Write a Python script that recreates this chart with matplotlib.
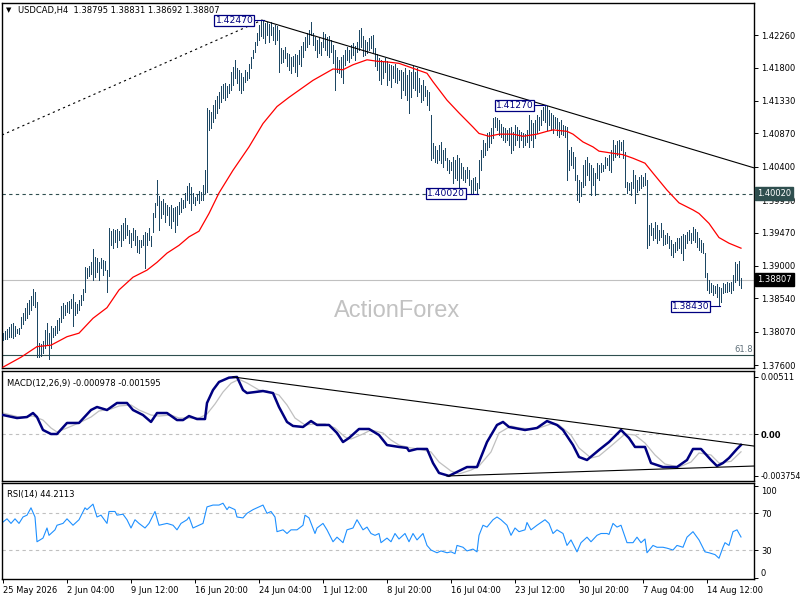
import matplotlib
matplotlib.use("Agg")
import matplotlib.pyplot as plt
import matplotlib.transforms as mtransforms
import numpy as np

# ---------------- data (USDCAD H4) ----------------
highs = [
 1.3805,1.3808,1.3811,1.3814,1.3818,1.3819,1.3815,1.3811,1.3812,1.3828,
 1.3833,1.3841,1.3848,1.3852,1.3857,1.3867,1.3863,1.3849,1.3791,1.3790,
 1.3794,1.3809,1.3819,1.3805,1.3815,1.3812,1.3815,1.3824,1.3826,1.3843,
 1.3848,1.3845,1.3849,1.3850,1.3853,1.3860,1.3849,1.3846,1.3852,1.3859,
 1.3867,1.3898,1.3897,1.3900,1.3905,1.3924,1.3913,1.3911,1.3905,1.3911,
 1.3908,1.3907,1.3894,1.3953,1.3949,1.3952,1.3951,1.3952,1.3949,1.3958,
 1.3961,1.3968,1.3958,1.3951,1.3946,1.3954,1.3951,1.3942,1.3937,1.3937,
 1.3944,1.3948,1.3946,1.3954,1.3942,1.3975,1.3989,1.4021,1.3999,1.3992,
 1.3994,1.3989,1.3986,1.3983,1.3986,1.3982,1.3983,1.3985,1.3990,1.3996,
 1.3993,1.4003,1.4013,1.4017,1.4011,1.4003,1.3997,1.4001,1.4006,1.4004,
 1.4014,1.4035,1.4123,1.4120,1.4117,1.4127,1.4134,1.4140,1.4146,1.4154,
 1.4157,1.4158,1.4154,1.4157,1.4174,1.4181,1.4191,1.4179,1.4177,1.4172,
 1.4167,1.4177,1.4174,1.4185,1.4195,1.4205,1.4216,1.4229,1.4240,1.4246,
 1.4247,1.4243,1.4244,1.4241,1.4244,1.4237,1.4240,1.4239,1.4233,1.4208,
 1.4205,1.4209,1.4201,1.4199,1.4195,1.4196,1.4199,1.4198,1.4205,1.4210,
 1.4216,1.4223,1.4229,1.4233,1.4244,1.4229,1.4223,1.4219,1.4222,1.4216,
 1.4230,1.4227,1.4223,1.4225,1.4219,1.4212,1.4205,1.4195,1.4191,1.4195,
 1.4198,1.4205,1.4209,1.4205,1.4212,1.4215,1.4210,1.4216,1.4233,1.4236,
 1.4225,1.4219,1.4216,1.4222,1.4225,1.4226,1.4208,1.4199,1.4194,1.4191,
 1.4188,1.4194,1.4189,1.4185,1.4184,1.4182,1.4185,1.4179,1.4177,1.4177,
 1.4174,1.4179,1.4170,1.4177,1.4174,1.4182,1.4174,1.4179,1.4165,1.4155,
 1.4162,1.4154,1.4148,1.4146,1.4113,1.4073,1.4069,1.4064,1.4071,1.4075,
 1.4064,1.4066,1.4052,1.4050,1.4047,1.4054,1.4050,1.4057,1.4052,1.4045,
 1.4040,1.4035,1.4040,1.4035,1.4021,1.4024,1.4026,1.4017,1.4050,1.4064,
 1.4078,1.4073,1.4088,1.4089,1.4095,1.4109,1.4110,1.4109,1.4106,1.4100,
 1.4096,1.4095,1.4092,1.4095,1.4096,1.4089,1.4099,1.4096,1.4092,1.4089,
 1.4088,1.4086,1.4092,1.4113,1.4106,1.4102,1.4106,1.4113,1.4110,1.4120,
 1.4124,1.4127,1.4126,1.4120,1.4116,1.4113,1.4110,1.4109,1.4103,1.4106,
 1.4099,1.4098,1.4096,1.4064,1.4068,1.4061,1.4054,1.4028,1.4021,1.4018,
 1.4042,1.4050,1.4054,1.4045,1.4042,1.4038,1.4031,1.4045,1.4042,1.4045,
 1.4042,1.4054,1.4052,1.4057,1.4064,1.4078,1.4071,1.4076,1.4078,1.4075,
 1.4078,1.4061,1.4018,1.4017,1.4018,1.4035,1.4028,1.4021,1.4026,1.4028,
 1.4026,1.4031,1.4021,1.3958,1.3961,1.3954,1.3962,1.3958,1.3951,1.3961,
 1.3951,1.3944,1.3946,1.3942,1.3937,1.3931,1.3934,1.3939,1.3939,1.3942,
 1.3945,1.3944,1.3948,1.3951,1.3946,1.3955,1.3952,1.3948,1.3939,1.3937,
 1.3932,1.3918,1.3890,1.3880,1.3876,1.3873,1.3872,1.3874,1.3870,1.3869,
 1.3876,1.3874,1.3877,1.3876,1.3877,1.3887,1.3905,1.3903,1.3907,1.38831,
]
lows = [
 1.3795,1.3797,1.3797,1.3800,1.3800,1.3798,1.3801,1.3805,1.3804,1.3812,
 1.3818,1.3824,1.3826,1.3832,1.3838,1.3845,1.3842,1.3771,1.3771,1.3773,
 1.3777,1.3784,1.3788,1.3769,1.3784,1.3800,1.3802,1.3805,1.3809,1.3821,
 1.3826,1.3831,1.3835,1.3833,1.3841,1.3815,1.3831,1.3833,1.3838,1.3845,
 1.3852,1.3863,1.3883,1.3886,1.3889,1.3880,1.3884,1.3891,1.3880,1.3897,
 1.3887,1.3894,1.3863,1.3886,1.3930,1.3925,1.3934,1.3927,1.3937,1.3928,
 1.3937,1.3939,1.3944,1.3932,1.3927,1.3937,1.3930,1.3920,1.3918,1.3927,
 1.3930,1.3897,1.3930,1.3937,1.3928,1.3948,1.3969,1.3986,1.3951,1.3968,
 1.3973,1.3962,1.3972,1.3958,1.3954,1.3963,1.3948,1.3958,1.3973,1.3976,
 1.3982,1.3983,1.3993,1.3989,1.3979,1.3989,1.3986,1.3993,1.3989,1.3993,
 1.3993,1.4003,1.4004,1.4092,1.4095,1.4103,1.4109,1.4116,1.4123,1.4131,
 1.4137,1.4134,1.4139,1.4144,1.4148,1.4155,1.4165,1.4158,1.4148,1.4144,
 1.4148,1.4160,1.4162,1.4165,1.4179,1.4194,1.4202,1.4212,1.4219,1.4225,
 1.4222,1.4215,1.4226,1.4216,1.4226,1.4219,1.4213,1.4219,1.4174,1.4187,
 1.4188,1.4194,1.4182,1.4177,1.4172,1.4182,1.4174,1.4168,1.4185,1.4182,
 1.4195,1.4205,1.4209,1.4213,1.4226,1.4212,1.4205,1.4195,1.4201,1.4198,
 1.4209,1.4205,1.4198,1.4195,1.4202,1.4187,1.4148,1.4174,1.4172,1.4167,
 1.4158,1.4184,1.4191,1.4188,1.4194,1.4198,1.4191,1.4202,1.4205,1.4209,
 1.4196,1.4198,1.4201,1.4205,1.4208,1.4202,1.4182,1.4177,1.4162,1.4157,
 1.4165,1.4174,1.4155,1.4162,1.4153,1.4165,1.4160,1.4158,1.4162,1.4137,
 1.4148,1.4141,1.4134,1.4116,1.4139,1.4151,1.4148,1.4140,1.4146,1.4131,
 1.4134,1.4140,1.4127,1.4120,1.4050,1.4052,1.4047,1.4045,1.4050,1.4045,
 1.4040,1.4050,1.4035,1.4031,1.4035,1.4017,1.4024,1.4021,1.4011,1.4024,
 1.4021,1.4018,1.4024,1.4014,1.4003,1.4003,1.4007,1.4002,1.4010,1.4035,
 1.4054,1.4057,1.4064,1.4068,1.4074,1.4081,1.4096,1.4092,1.4085,1.4082,
 1.4078,1.4075,1.4078,1.4071,1.4059,1.4064,1.4071,1.4078,1.4068,1.4078,
 1.4068,1.4071,1.4075,1.4068,1.4078,1.4068,1.4081,1.4088,1.4092,1.4099,
 1.4106,1.4103,1.4092,1.4099,1.4092,1.4088,1.4095,1.4085,1.4082,1.4086,
 1.4085,1.4082,1.4021,1.4035,1.4042,1.4038,1.4021,1.3993,1.3990,1.3999,
 1.4011,1.4014,1.4028,1.4021,1.4000,1.4014,1.4000,1.4024,1.4021,1.4033,
 1.4034,1.4038,1.4042,1.4035,1.4033,1.4050,1.4054,1.4057,1.4054,1.4064,
 1.4052,1.4011,1.4003,1.4007,1.4000,1.4010,1.3989,1.4004,1.4007,1.4010,
 1.4013,1.4014,1.3925,1.3930,1.3944,1.3937,1.3939,1.3932,1.3937,1.3941,
 1.3930,1.3931,1.3932,1.3925,1.3915,1.3913,1.3920,1.3922,1.3925,1.3918,
 1.3908,1.3925,1.3932,1.3937,1.3932,1.3937,1.3934,1.3927,1.3922,1.3920,
 1.3918,1.3884,1.3866,1.3862,1.3863,1.3859,1.3862,1.3856,1.3843,1.3849,
 1.3862,1.3863,1.3863,1.3864,1.3862,1.3866,1.3877,1.3880,1.3873,1.38692,
]
last_ohlc = [1.38795, 1.38831, 1.38692, 1.38807]

# moving average (read at bar positions)
ma_idx = [0, 9, 17, 24, 32, 38, 45, 52, 58, 65, 72, 77, 82, 88, 93, 98, 103, 108, 115, 123,
          130, 137, 143, 150, 155, 160, 165, 170, 175, 182, 187, 192, 198, 205, 212, 215, 222, 228, 235, 238,
          243, 248, 255, 260, 267, 272, 275, 282, 285, 290, 295, 298, 305, 310, 315, 321, 325, 332, 338, 345,
          348, 353, 358, 363, 369]
ma_val = [1.3757, 1.3771, 1.3786, 1.3788, 1.3800, 1.3805, 1.3826, 1.3841, 1.3866, 1.3884,
          1.3894, 1.3905, 1.3918, 1.3929, 1.3941, 1.3949, 1.3974, 1.4003, 1.4035, 1.4068,
          1.4101, 1.4125, 1.4138, 1.4152, 1.4162, 1.4170, 1.4178, 1.4177, 1.4184, 1.4191,
          1.4189, 1.4188, 1.4186, 1.4179, 1.4172, 1.4160, 1.4134, 1.4116, 1.4096, 1.4087,
          1.4083, 1.4086, 1.4086, 1.4083, 1.4086, 1.4090, 1.4092, 1.4090, 1.4086, 1.4075,
          1.4068, 1.4062, 1.4059, 1.4057, 1.4052, 1.4045, 1.4031, 1.4007, 1.3989, 1.3979,
          1.3974, 1.3960, 1.3940, 1.3932, 1.3925]

# MACD(12,26,9)
macd_idx = [0, 7, 12, 15, 17, 20, 24, 27, 32, 38, 44, 47, 52, 57, 62, 65, 70, 74, 77, 82,
            87, 90, 93, 97, 101, 102, 105, 108, 113, 117, 120, 122, 130, 135, 138, 142, 145, 150, 154, 157,
            163, 167, 170, 173, 178, 183, 188, 192, 198, 202, 203, 207, 212, 215, 218, 223, 227, 232, 237, 242,
            247, 250, 253, 261, 267, 272, 277, 280, 285, 288, 292, 298, 303, 309, 313, 316, 321, 324, 330, 337,
            342, 345, 349, 354, 357, 360, 363, 367, 369]
macd_val = [0.00170, 0.00143, 0.00152, 0.00188, 0.00152, 0.00036, 0.00000, 0.00000, 0.00099, 0.00099,
            0.00215, 0.00242, 0.00215, 0.00278, 0.00278, 0.00215, 0.00170, 0.00108, 0.00188, 0.00188,
            0.00125, 0.00125, 0.00161, 0.00134, 0.00134, 0.00278, 0.00394, 0.00466, 0.00505, 0.00511,
            0.00394, 0.00367, 0.00385, 0.00367, 0.00242, 0.00108, 0.00072, 0.00063, 0.00116, 0.00081,
            0.00081, 0.00009, -0.00072, -0.00036, 0.00045, 0.00045, -0.00009, -0.00099, -0.00116, -0.00125,
            -0.00152, -0.00134, -0.00134, -0.00260, -0.00349, -0.003754, -0.00340, -0.00296, -0.00296, -0.00072,
            0.00081, 0.00108, 0.00063, 0.00036, 0.00054, 0.00116, 0.00081, 0.00036, -0.00099, -0.00206,
            -0.00233, -0.00143, -0.00072, 0.00036, -0.00036, -0.00116, -0.00116, -0.00260, -0.00296, -0.00296,
            -0.00233, -0.00134, -0.00134, -0.00233, -0.00287, -0.00260, -0.00215, -0.00134, -0.000978]
sig_idx = [0, 8, 15, 20, 24, 27, 32, 38, 44, 48, 54, 58, 64, 68, 74, 78, 84, 88, 94, 98,
           102, 106, 110, 114, 118, 122, 128, 132, 138, 142, 146, 151, 156, 161, 166, 171, 174, 180, 184, 190,
           194, 198, 204, 208, 214, 218, 224, 228, 234, 238, 244, 248, 254, 258, 264, 268, 274, 278, 284, 288,
           294, 298, 304, 311, 316, 321, 326, 331, 338, 344, 348, 354, 358, 364, 369]
sig_val = [0.00188, 0.00152, 0.00161, 0.00125, 0.00054, 0.00018, 0.00054, 0.00099, 0.00152, 0.00206,
           0.00224, 0.00251, 0.00260, 0.00215, 0.00170, 0.00161, 0.00170, 0.00143, 0.00143, 0.00143,
           0.00179, 0.00269, 0.00376, 0.00455, 0.00490, 0.00457, 0.00394, 0.00385, 0.00349, 0.00260,
           0.00143, 0.00081, 0.00090, 0.00090, 0.00054, -0.00027, -0.00045, 0.00000, 0.00036, 0.00009,
           -0.00054, -0.00099, -0.00125, -0.00134, -0.00161, -0.00251, -0.00332, -0.00358, -0.00323, -0.00287,
           -0.00161, 0.00009, 0.00072, 0.00054, 0.00045, 0.00054, 0.00090, 0.00081, -0.00009, -0.00125,
           -0.00215, -0.00197, -0.00108, 0.00000, -0.00009, -0.00081, -0.00188, -0.00269, -0.00296, -0.00251,
           -0.00170, -0.00188, -0.00260, -0.00245, -0.001595]

# RSI(14)
rsi_idx = [0, 2, 4, 6, 8, 10, 12, 14, 16, 17, 20, 22, 23, 26, 27, 30, 32, 35, 38, 41,
           42, 45, 47, 49, 52, 53, 56, 57, 60, 62, 64, 66, 68, 71, 73, 76, 78, 82, 85, 87,
           89, 92, 93, 95, 98, 100, 102, 105, 108, 110, 112, 113, 116, 117, 120, 122, 125, 127, 130, 132,
           134, 136, 137, 140, 142, 144, 147, 150, 151, 153, 156, 157, 160, 162, 165, 167, 170, 172, 175, 177,
           180, 182, 184, 186, 188, 189, 192, 194, 196, 198, 201, 203, 205, 207, 210, 212, 214, 217, 219, 222,
           224, 226, 227, 230, 232, 235, 237, 238, 240, 242, 245, 247, 249, 252, 254, 256, 258, 261, 262, 264,
           267, 269, 271, 273, 275, 277, 280, 282, 284, 287, 289, 292, 294, 297, 299, 302, 303, 305, 307, 309,
           312, 315, 317, 319, 321, 322, 325, 327, 330, 332, 335, 337, 340, 342, 343, 345, 347, 348, 351, 353,
           356, 358, 360, 361, 363, 365, 367, 369]
rsi_val = [60.5, 64, 59, 64, 59, 66, 68, 76, 66, 39, 43, 54, 46, 52, 57, 59, 64, 57, 63, 76,
           74, 80, 66, 68, 59, 72, 72, 68, 69, 63, 54, 63, 59, 54, 59, 72, 57, 59, 57, 52,
           59, 63, 66, 54, 57, 59, 77, 79, 79, 81, 74, 77, 74, 66, 65, 70, 74, 76, 79, 70,
           72, 66, 50, 52, 48, 52, 52, 57, 68, 65, 48, 54, 59, 52, 39, 44, 38, 52, 54, 63,
           52, 55, 48, 46, 48, 38, 43, 39, 48, 42, 48, 39, 48, 41, 48, 35, 30, 27, 29, 27,
           28, 26, 35, 33, 29, 31, 28, 46, 57, 55, 63, 66, 63, 57, 46, 54, 50, 52, 60, 52,
           57, 60, 63, 59, 48, 52, 48, 35, 41, 28, 38, 44, 39, 46, 48, 48, 47, 59, 55, 57,
           38, 38, 44, 38, 42, 27, 35, 33, 33, 32, 30, 35, 33, 44, 46, 50, 44, 41, 28, 27,
           25, 21, 33, 38, 35, 50, 52, 44.2113]

price_ticks = [1.42260, 1.41800, 1.41330, 1.40870, 1.40400, 1.39930, 1.39470,
               1.39000, 1.38540, 1.38070, 1.37600]
date_ticks = [0, 32, 64, 96, 128, 160, 192, 224, 256, 288, 320, 352]
date_labels = ["25 May 2026", "2 Jun 04:00", "9 Jun 12:00", "16 Jun 20:00", "24 Jun 04:00",
               "1 Jul 12:00", "8 Jul 20:00", "16 Jul 04:00", "23 Jul 12:00", "30 Jul 20:00",
               "7 Aug 04:00", "14 Aug 12:00"]
support_level = 1.40020
fib_level = 1.37740
# marked swing points: (bar, price)
swings = [(130, 1.42470), (271, 1.41270), (237, 1.40020), (358, 1.38430)]
# trendlines: (bar, price)
trend_down = [(129.5, 1.42470), (375.5, 1.40384)]
trend_up_dotted = [(-0.5, 1.40848), (129.5, 1.42470)]
macd_tl_upper = [(115, 0.00511), (375.5, -0.00108)]
macd_tl_lower = [(222, -0.00376), (375.5, -0.00287)]

# ---------------- style ----------------
plt.rcParams['font.family'] = ['DejaVu Sans']
BAR = '#1d4763'
NAVY = '#000080'
FS = 6.0

fig = plt.figure(figsize=(8, 6), dpi=100)
fig.patch.set_facecolor('white')
W, H = 800.0, 600.0
ax = fig.add_axes([2 / W, 1 - 368 / H, 752 / W, 365 / H])
axm = fig.add_axes([2 / W, 1 - 481 / H, 752 / W, 110 / H], sharex=ax)
axr = fig.add_axes([2 / W, 1 - 579 / H, 752 / W, 96 / H], sharex=ax)

n = len(highs)
idx = np.arange(n)
for a in (ax, axm, axr):
    for s in a.spines.values():
        s.set_linewidth(1.0)
        s.set_color('black')
    a.yaxis.tick_right()
    a.tick_params(axis='y', direction='out', length=3, width=0.7, labelsize=FS, pad=2)
    a.set_facecolor('white')
ax.set_xlim(-0.5, 375.5)

# ---- main price panel ----
ax.set_ylim(1.37558, 1.42712)
ax.text(0.525, 0.156, 'ActionForex', transform=ax.transAxes, ha='center', va='center',
        fontsize=17, color='#c2c2c2', family='Liberation Sans', zorder=0)
ax.vlines(idx, lows, highs, colors=BAR, linewidth=0.72, antialiased=False, zorder=3)
ax.plot(ma_idx, ma_val, color='#ff0000', lw=0.9, zorder=4)
ax.axhline(support_level, color='#2f4f4f', lw=0.8, ls=(0, (3, 3)), zorder=2)
ax.axhline(last_ohlc[3], color='#c0c0c0', lw=0.8, zorder=1)
ax.axhline(fib_level, color='#2f4f4f', lw=0.8, zorder=2)
ax.text(375, fib_level + 0.0002, '61.8', ha='right', va='bottom', fontsize=FS, color='#60707a')
ax.plot([p[0] for p in trend_down], [p[1] for p in trend_down], color='black', lw=0.8, zorder=5)
ax.plot([p[0] for p in trend_up_dotted], [p[1] for p in trend_up_dotted], color='black',
        lw=0.8, ls=(0, (2, 3)), zorder=5)
ax.set_yticks(price_ticks)
ax.set_yticklabels(['%.5f' % v for v in price_ticks])
ax.tick_params(axis='x', bottom=False, labelbottom=False)

def price_label(i_pt, price, gap):
    ax.plot([i_pt - gap, i_pt + 0.5], [price, price], color=NAVY, lw=0.8, zorder=6)
    ax.text(i_pt - gap - 0.8, price, '%.5f' % price, ha='right', va='center', fontsize=6.6,
            color=NAVY, zorder=7,
            bbox=dict(boxstyle='square,pad=0.12', fc='white', ec=NAVY, lw=0.9))

for (bi, bp), g in zip(swings, [4, 5, 5, 4]):
    price_label(bi, bp, g)

# right axis marker labels
tr = mtransforms.blended_transform_factory(ax.transAxes, ax.transData)
ax.text(1.004, last_ohlc[3], '%.5f' % last_ohlc[3], transform=tr, ha='left', va='center',
        fontsize=FS, color='white', zorder=8,
        bbox=dict(boxstyle='square,pad=0.25', fc='black', ec='black'), clip_on=False)
ax.text(1.004, support_level, '%.5f' % support_level, transform=tr, ha='left', va='center',
        fontsize=FS, color='white', zorder=8,
        bbox=dict(boxstyle='square,pad=0.25', fc='#2f4f4f', ec='#2f4f4f'), clip_on=False)

# header
fig.text(6 / W, 1 - 10.5 / H, '\u25BC', fontsize=5, va='center', ha='left', color='black')
fig.text(18 / W, 1 - 10.5 / H, 'USDCAD,H4  %.5f %.5f %.5f %.5f' % tuple(last_ohlc),
         fontsize=FS, va='center', ha='left', color='black')

# ---- MACD panel ----
axm.set_ylim(-0.004211, 0.005645)
axm.axhline(0.0, color='#c0c0c0', lw=0.8, ls=(0, (3, 3)), zorder=1)
axm.plot(sig_idx, sig_val, color='#c0c0c0', lw=0.9, zorder=2)
axm.plot(macd_idx, macd_val, color=NAVY, lw=1.8, zorder=3)
axm.plot([p[0] for p in macd_tl_upper], [p[1] for p in macd_tl_upper], color='black', lw=0.8, zorder=4)
axm.plot([p[0] for p in macd_tl_lower], [p[1] for p in macd_tl_lower], color='black', lw=0.8, zorder=4)
macd_ticks = [0.00511, 0.0, -0.003754]
axm.set_yticks(macd_ticks)
axm.set_yticklabels(['0.00511', '0.00', '-0.003754'])
ml = axm.get_yticklabels()
ml[1].set_fontweight('bold')
ml[2].set_fontsize(5.7)
axm.tick_params(axis='y', pad=1.5)
axm.text(0.007, 0.93, 'MACD(12,26,9) %.6f %.6f' % (macd_val[-1], sig_val[-1]),
         transform=axm.transAxes, fontsize=FS, va='top', ha='left')
axm.tick_params(axis='x', bottom=False, labelbottom=False)

# ---- RSI panel ----
axr.set_ylim(-1.6, 103.05)
axr.axhline(70, color='#c0c0c0', lw=0.8, ls=(0, (3, 3)), zorder=1)
axr.axhline(30, color='#c0c0c0', lw=0.8, ls=(0, (3, 3)), zorder=1)
axr.plot(rsi_idx, rsi_val, color='#1e90ff', lw=0.8, zorder=2)
rsi_ticks = [100, 70, 30, 0]
axr.set_yticks(rsi_ticks)
axr.set_yticklabels(['100', '70', '30', '0'])
lbls = axr.get_yticklabels()
lbls[0].set_transform(lbls[0].get_transform() + mtransforms.ScaledTranslation(0, -5 / 100, fig.dpi_scale_trans))
lbls[3].set_transform(lbls[3].get_transform() + mtransforms.ScaledTranslation(0, 5.5 / 100, fig.dpi_scale_trans))
axr.text(0.007, 0.93, 'RSI(14) %.4f' % rsi_val[-1], transform=axr.transAxes,
         fontsize=FS, va='top', ha='left')
axr.set_xticks(date_ticks)
axr.set_xticklabels(date_labels, ha='left')
axr.tick_params(axis='x', direction='out', length=3, width=0.7, labelsize=FS, pad=2)

fig.savefig('out.png', dpi=100, facecolor='white')
